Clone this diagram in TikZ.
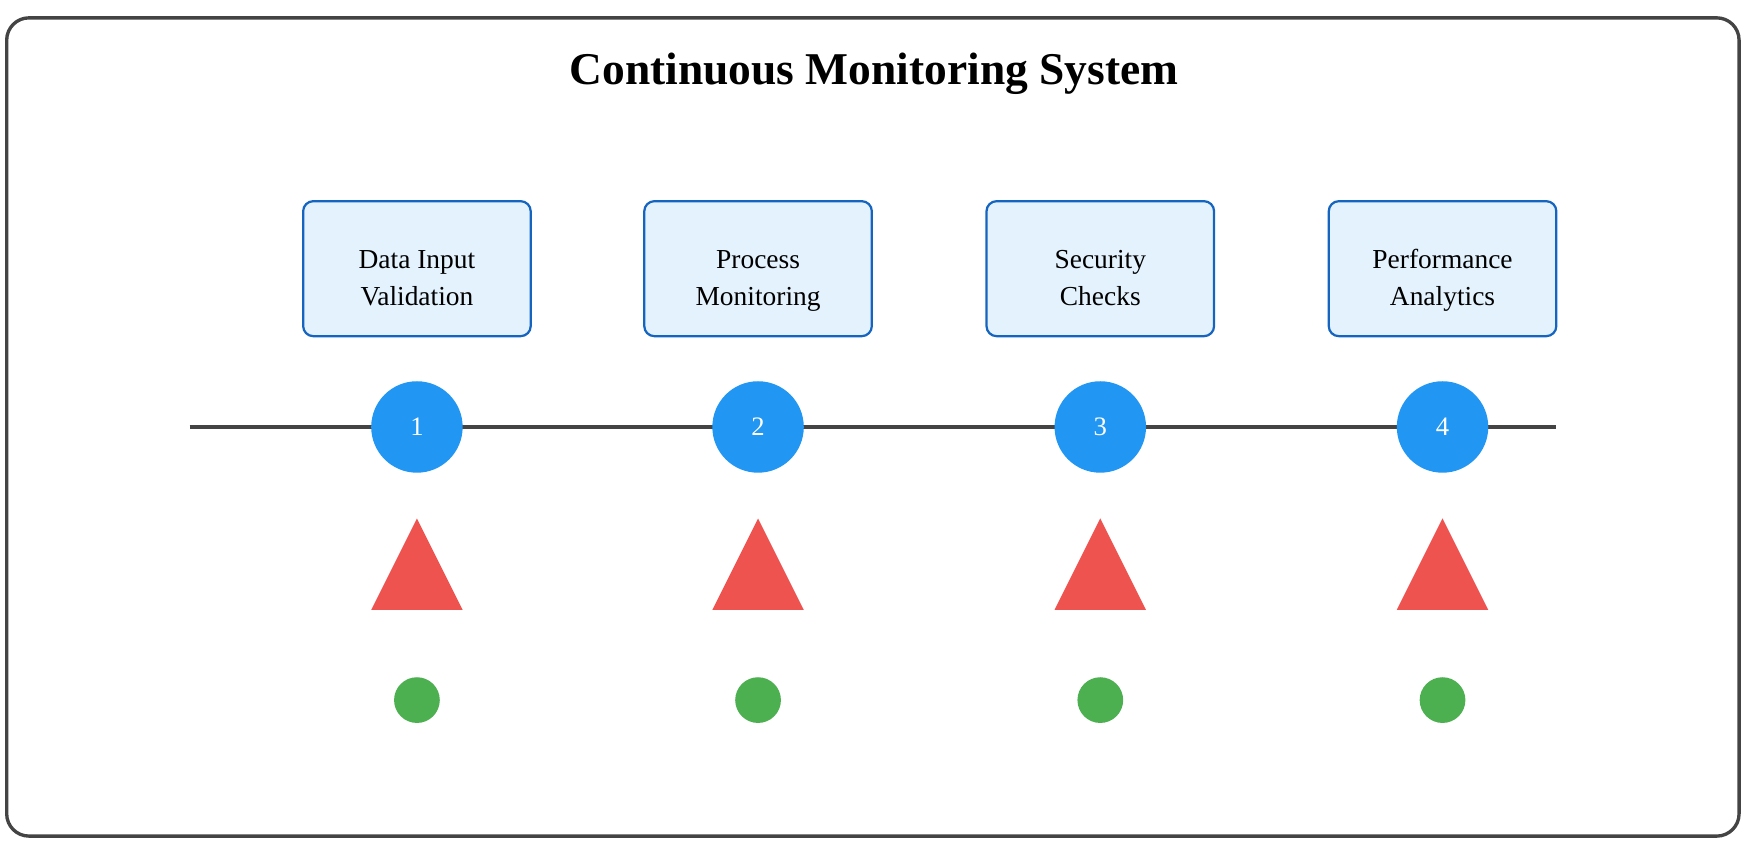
\documentclass[tikz,border=0pt]{standalone}
\usepackage{fontspec}
\setmainfont{Liberation Serif}
\usetikzlibrary{positioning}
\definecolor{frameGray}{HTML}{444444}
\definecolor{boxFill}{HTML}{E3F2FD}
\definecolor{boxEdge}{HTML}{1565C0}
\definecolor{stepBlue}{HTML}{2196F3}
\definecolor{alertRed}{HTML}{EF5350}
\definecolor{okGreen}{HTML}{4CAF50}
\tikzset{
  stage/.style={draw=boxEdge, fill=boxFill, line width=0.02cm, rounded corners=0.09cm,
    minimum width=2.04cm, minimum height=1.21cm},
  stagetext/.style={align=center, font=\fontsize{7}{9.2}\selectfont},
  stepnode/.style={circle, fill=stepBlue, minimum size=0.82cm, inner sep=0pt, text=white,
    font=\fontsize{6.8}{8}\selectfont},
  alert/.style={fill=alertRed},
  status/.style={circle, fill=okGreen, minimum size=0.41cm, inner sep=0pt}
}
\begin{document}
\begin{tikzpicture}[x=0.01cm, y=-0.01cm]
        \useasboundingbox (0,0) rectangle (1568,763);
        \draw[frameGray, line width=0.03cm, rounded corners=0.2cm] (6,16) rectangle (1560,750);
        \node[font=\bfseries\fontsize{11.6}{13}\selectfont] (title) at (784,66) {Continuous Monitoring System};
        \coordinate (L) at (170,383);
        \coordinate (R) at (1396,383);
        \draw[frameGray, line width=0.04cm] (L) -- (R);
        \foreach \x/\n/\a/\b in {374/1/Data Input/Validation, 680/2/Process/Monitoring,
                                 987/3/Security/Checks, 1294/4/Performance/Analytics} {
            \node[stage] (box\n) at (\x,241) {};
            \node[stagetext] (label\n) at (\x,251) {\strut\a\\\strut\b};
            \node[stepnode] (step\n) at (\x,383) {\n};
            \fill[alert] (\x,465) -- (\x+41,547) -- (\x-41,547) -- cycle;
            \node[status] (dot\n) at (\x,628) {};
        }
    \end{tikzpicture}
\end{document}
